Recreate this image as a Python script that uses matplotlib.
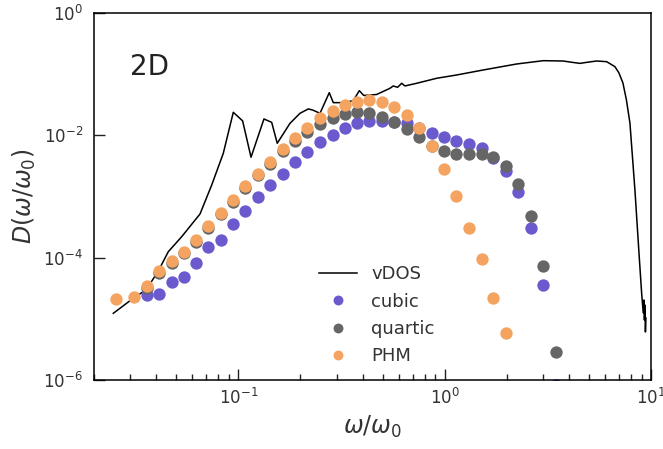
import numpy as np
import matplotlib
matplotlib.use("Agg")
import matplotlib.pyplot as plt
from matplotlib.ticker import NullLocator

# frequency grid shared by the three model curves
freq = [0.0255, 0.0313, 0.0361, 0.0412, 0.0476, 0.0546, 0.0624, 0.0716, 0.0825,
        0.0946, 0.108, 0.125, 0.143, 0.164, 0.189, 0.216, 0.249, 0.287, 0.329,
        0.375, 0.431, 0.495, 0.570, 0.659, 0.753, 0.865, 0.995, 1.14, 1.31,
        1.51, 1.72, 1.98, 2.27, 2.61, 3.00, 3.45]

# cubic and quartic start at the third frequency
dos_cubic = [2.43e-5, 2.52e-5, 4.05e-5, 4.83e-5, 8.18e-5, 1.48e-4, 1.95e-4,
             3.51e-4, 5.79e-4, 9.71e-4, 1.52e-3, 2.36e-3, 3.62e-3, 5.34e-3,
             7.79e-3, 1.02e-2, 1.32e-2, 1.61e-2, 1.73e-2, 1.70e-2, 1.65e-2,
             1.57e-2, 1.32e-2, 1.10e-2, 9.22e-3, 8.08e-3, 7.16e-3, 6.14e-3,
             4.26e-3, 2.61e-3, 1.17e-3, 3.02e-4, 3.57e-5, 8.3e-7]
dos_quartic = [3.19e-5, 5.62e-5, 8.18e-5, 1.17e-4, 1.80e-4, 3.11e-4, 5.08e-4,
               8.13e-4, 1.40e-3, 2.25e-3, 3.40e-3, 5.54e-3, 8.08e-3, 1.15e-2,
               1.53e-2, 1.90e-2, 2.23e-2, 2.38e-2, 2.29e-2, 2.00e-2, 1.67e-2,
               1.26e-2, 9.22e-3, 6.70e-3, 5.54e-3, 4.92e-3, 4.92e-3, 4.99e-3,
               4.38e-3, 3.10e-3, 1.58e-3, 4.86e-4, 7.31e-5, 2.90e-6]
dos_phm = [2.09e-5, 2.25e-5, 3.40e-5, 5.98e-5, 8.81e-5, 1.25e-4, 1.95e-4,
           3.33e-4, 5.43e-4, 8.66e-4, 1.49e-3, 2.36e-3, 3.67e-3, 6.05e-3,
           9.04e-3, 1.33e-2, 1.90e-2, 2.53e-2, 3.10e-2, 3.55e-2, 3.74e-2,
           3.48e-2, 2.94e-2, 2.15e-2, 1.30e-2, 6.77e-3, 2.78e-3, 1.03e-3,
           3.09e-4, 9.51e-5, 2.22e-5, 5.94e-6]

# vibrational density of states from the simulation
vdos_w = [0.0248, 0.0310, 0.03466, 0.0360, 0.04098, 0.04581, 0.05319, 0.06527,
          0.07436, 0.08462, 0.09461, 0.1050, 0.1153, 0.1332, 0.1452, 0.1545,
          0.1781, 0.1991, 0.2184, 0.2294, 0.2489, 0.2761, 0.2887, 0.3228,
          0.3609, 0.3859, 0.4057, 0.4685, 0.5433, 0.5637, 0.5920, 0.6190,
          0.6422, 0.7320, 0.9150, 1.144, 1.539, 2.234, 3.005, 3.756, 4.093,
          4.526, 4.948, 5.452, 6.095, 6.688, 6.994, 7.311, 7.602, 7.905,
          8.358, 8.770, 9.007, 9.170, 9.242, 9.293, 9.346, 9.397, 9.450]
vdos_d = [1.23e-5, 2.17e-5, 2.78e-5, 3.08e-5, 6.05e-5, 1.25e-4, 2.20e-4, 5.18e-4,
          1.54e-3, 5.08e-3, 2.38e-2, 1.72e-2, 4.38e-3, 1.85e-2, 1.63e-2,
          7.41e-3, 1.57e-2, 2.29e-2, 2.70e-2, 2.59e-2, 2.29e-2, 4.98e-2,
          3.42e-2, 3.42e-2, 3.68e-2, 5.37e-2, 4.48e-2, 4.65e-2, 5.87e-2,
          6.41e-2, 6.10e-2, 7.09e-2, 6.41e-2, 7.09e-2, 8.56e-2, 9.69e-2,
          0.117, 0.1466, 0.166, 0.164, 0.157, 0.150, 0.157, 0.164, 0.160,
          0.1325, 0.1045, 7.17e-2, 3.78e-2, 1.59e-2, 1.28e-3, 1.03e-4,
          2.65e-5, 1.25e-5, 2.03e-5, 9.58e-6, 1.68e-5, 6.10e-6, 1.03e-5]

fig = plt.figure(figsize=(6.63, 4.49), dpi=100)
ax = fig.add_axes([0.1418, 0.1537, 0.8401, 0.8174])

ax.plot(vdos_w, vdos_d, color="black", lw=1.1, label="vDOS")
ms = 8.9
ax.plot(freq[2:], dos_cubic, "o", ls="none", ms=ms, mew=0, color="#6a5acd", label="cubic")
ax.plot(freq[2:], dos_quartic, "o", ls="none", ms=ms, mew=0, color="#666666", label="quartic")
ax.plot(freq[:len(dos_phm)], dos_phm, "o", ls="none", ms=ms, mew=0, color="#f4a460", label="PHM")

ax.set_xscale("log")
ax.set_yscale("log")
ax.set_xlim(0.02, 10)
ax.set_ylim(1e-6, 1)
ax.set_yticks([1e-6, 1e-4, 1e-2, 1])
ax.yaxis.set_minor_locator(NullLocator())

ax.tick_params(which="both", direction="in", top=False, right=False,
               labelsize=12, width=1.0, colors="#222222", labelcolor="#333333")
ax.tick_params(which="major", length=8)
ax.tick_params(which="minor", length=4)
ax.tick_params(axis="y", pad=8)
ax.tick_params(axis="x", pad=6)
for s in ax.spines.values():
    s.set_linewidth(1.1)

ax.set_xlabel(r"$\omega/\omega_0$", fontsize=17, math_fontfamily="dejavusans", color="#333333")
ax.set_ylabel(r"$D(\omega/\omega_0)$", fontsize=17, math_fontfamily="dejavusans", color="#333333")

ax.text(0.099, 0.853, "2D", transform=ax.transAxes, fontsize=20,
        ha="center", va="center", color="#222222")

ax.legend(loc="upper left", bbox_to_anchor=(0.375, 0.357), frameon=False,
          fontsize=13, handlelength=2.1, handletextpad=0.8, labelspacing=0.52,
          markerscale=0.8, labelcolor="#333333")

fig.savefig("out.png", dpi=100)
